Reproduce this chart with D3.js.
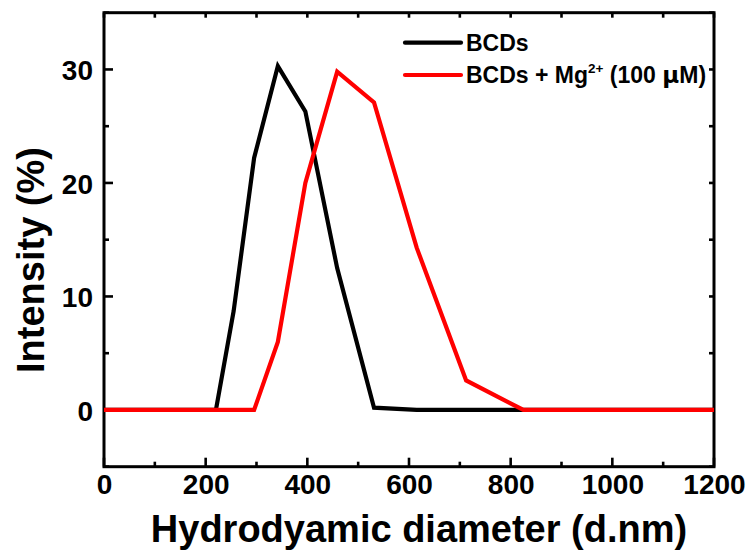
<!DOCTYPE html>
<html><head><meta charset="utf-8">
<script src="https://cdn.jsdelivr.net/npm/d3@7"></script>
<style>body{margin:0;background:#fff}svg{display:block}text{font-family:"Liberation Sans",Arial,sans-serif;font-weight:bold;fill:#000}</style>
</head><body>
<script>
const diameters = [0, 100, 141.8, 164.2, 190.1, 220.2, 255.0, 295.3, 342.0, 396.1, 458.7, 531.2, 615.1, 712.4, 825.0, 955.4, 1106, 1200];
const bcds      = [0, 0, 0, 0, 0, 0, 8.7, 22.2, 30.3, 26.3, 12.5, 0.2, 0, 0, 0, 0, 0, 0];
const bcdsMg    = [0, 0, 0, 0, 0, 0, 0, 0, 6.0, 20.0, 29.8, 27.1, 14.3, 2.6, 0, 0, 0, 0];
const xTicks = [0, 200, 400, 600, 800, 1000, 1200];
const yTicks = [0, 10, 20, 30];
const seriesNames = ["BCDs", "BCDs + Mg"];
const seriesColors = ["#000000", "#ff0000"];

const W = 751, H = 550;
const m = {left:104, top:12.7, right:714, bottom:466.7};
const svg = d3.select("body").append("svg").attr("width", W).attr("height", H);
const x = d3.scaleLinear().domain([0, 1200]).range([m.left, m.right]);
const y = d3.scaleLinear().domain([-5, 35]).range([m.bottom, m.top]);

// axes with inward ticks
const xMinor = d3.range(0, 1201, 100);
const yMinor = d3.range(-5, 36, 5);
const g = svg.append("g").attr("stroke", "#000").attr("stroke-width", 2.6);
xMinor.forEach(v => {
  const major = v % 200 === 0;
  g.append("line").attr("x1", x(v)).attr("x2", x(v)).attr("y1", m.bottom).attr("y2", m.bottom - (major ? 9 : 5));
  g.append("line").attr("x1", x(v)).attr("x2", x(v)).attr("y1", m.top).attr("y2", m.top + 5);
});
yMinor.forEach(v => {
  const major = v % 10 === 0;
  g.append("line").attr("y1", y(v)).attr("y2", y(v)).attr("x1", m.left).attr("x2", m.left + (major ? 9 : 5));
  g.append("line").attr("y1", y(v)).attr("y2", y(v)).attr("x1", m.right).attr("x2", m.right - 5);
});
svg.append("rect").attr("x", m.left).attr("y", m.top)
  .attr("width", m.right - m.left).attr("height", m.bottom - m.top)
  .attr("fill", "none").attr("stroke", "#000").attr("stroke-width", 3);

const line = d3.line().x(d => x(d[0])).y(d => y(d[1]));
const series = [bcds, bcdsMg];
series.forEach((s, i) => {
  svg.append("path")
    .datum(diameters.map((d, j) => [d, s[j]]))
    .attr("d", line).attr("fill", "none")
    .attr("stroke", seriesColors[i]).attr("stroke-width", 4.2)
    .attr("stroke-linejoin", "miter");
});

// tick labels via axes
const xAxis = svg.append("g").attr("transform", `translate(0,${m.bottom})`)
  .call(d3.axisBottom(x).tickValues(xTicks).tickSize(0).tickPadding(0).tickFormat(d3.format("d")));
xAxis.select(".domain").remove();
xAxis.selectAll("text").attr("font-size", 28).attr("dy", null).attr("y", 27.5)
  .style("font-family", '"Liberation Sans",Arial,sans-serif').style("font-weight", "bold");
const yAxis = svg.append("g").attr("transform", `translate(${m.left},0)`)
  .call(d3.axisLeft(y).tickValues(yTicks).tickSize(0).tickPadding(0).tickFormat(d3.format("d")));
yAxis.select(".domain").remove();
yAxis.selectAll("text").attr("font-size", 28).attr("x", -11).attr("dy", "0.36em")
  .style("font-family", '"Liberation Sans",Arial,sans-serif').style("font-weight", "bold");

// titles
svg.append("text").attr("x", 419).attr("y", 542).attr("text-anchor", "middle")
  .attr("font-size", 38).text("Hydrodyamic diameter (d.nm)");
svg.append("text").attr("transform", "translate(44,260) rotate(-90)").attr("text-anchor", "middle")
  .attr("font-size", 38).text("Intensity (%)");

// legend
const legY = [42.7, 75];
seriesNames.forEach((n, i) => {
  svg.append("line").attr("x1", 405).attr("x2", 461).attr("y1", legY[i]).attr("y2", legY[i])
    .attr("stroke", seriesColors[i]).attr("stroke-width", 4.2).attr("stroke-linecap", "round");
  const t = svg.append("text").attr("x", 466).attr("y", legY[i] + 8.3).attr("font-size", 23).text(n);
  if (i === 1) {
    t.append("tspan").attr("font-size", 13.5).attr("dy", -10).text("2+");
    t.append("tspan").attr("dy", 10).text(" (100 ");
    t.append("tspan").attr("font-family", "DejaVu Sans").attr("font-weight", "bold").text("μ");
    t.append("tspan").text("M)");
  }
});
</script>
</body></html>
